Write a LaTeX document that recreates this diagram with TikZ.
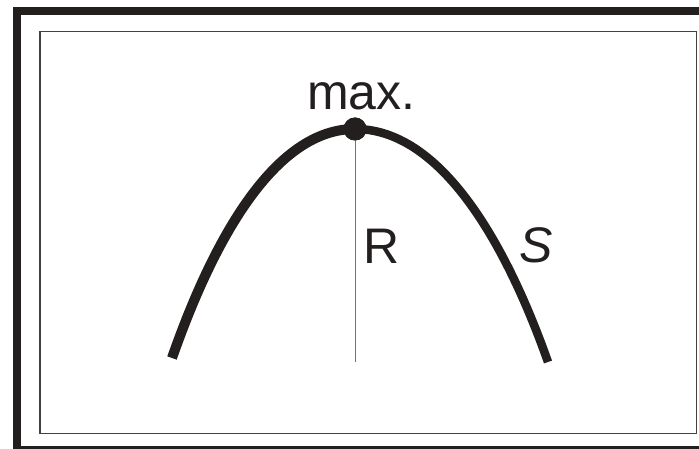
\documentclass[tikz,border=0pt]{standalone}
\usepackage{fontspec}
\setmainfont{Liberation Sans}
\definecolor{ink}{RGB}{35,31,30}
\begin{document}
\begin{tikzpicture}[x=1pt,y=-1pt,
  frame/.style={draw=ink,line width=8pt},
  panel/.style={draw=ink!85,line width=1.3pt},
  arch/.style={draw=ink,line width=#1,line cap=butt},
  axisline/.style={draw=black!55,line width=1pt},
  lbl/.style={inner sep=0pt,anchor=base west,text=ink,font=\fontsize{50}{60}\selectfont}]
\useasboundingbox (0,0) rectangle (699,449);
\clip (0,0) rectangle (699,449);
\fill[white] (0,0) rectangle (699,449);
\draw[frame] (16.7,11.5) rectangle (705,449.5);
\draw[panel] (40,31.7) rectangle (696.5,433.5);
\coordinate (L) at (172,358);
\coordinate (Rt) at (548,362);
\coordinate (base) at (355,362);
\node[circle,fill=ink,minimum size=23pt,inner sep=0pt] (top) at (355,129) {};
\draw[axisline] (top.center) -- (base);
\draw[arch=10pt] (L) .. controls (198,284) and (260,129) .. (top.center);
\draw[arch=8.5pt] (top.center) .. controls (455,129) and (520,283) .. (Rt);
\node[circle,fill=ink,minimum size=23pt,inner sep=0pt] at (top) {};
\node[lbl] (max) at (307,110) {max.};
\node[lbl] (R) at (363,263) {R};
\node[lbl,font=\fontsize{50}{60}\selectfont\itshape] (S) at (519,262) {S};
\end{tikzpicture}
\end{document}
